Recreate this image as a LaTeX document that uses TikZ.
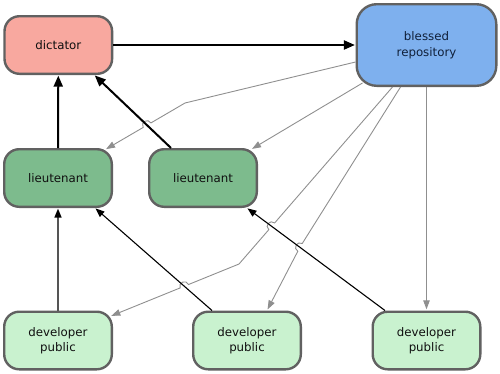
\documentclass[tikz,border=0pt]{standalone}
\usepackage{fontspec}
\setmainfont{DejaVu Sans}
\usetikzlibrary{arrows.meta,calc}
\definecolor{boxline}{HTML}{616161}
\definecolor{dictfill}{HTML}{F8A89F}
\definecolor{blessfill}{HTML}{7EB0EE}
\definecolor{ltfill}{HTML}{7DBB8D}
\definecolor{devfill}{HTML}{C9F2CF}
\definecolor{txt}{HTML}{101010}
\definecolor{blesstxt}{HTML}{10203A}
\definecolor{greyline}{HTML}{8F8F8F}
\definecolor{devline}{HTML}{555555}
\begin{document}
\begin{tikzpicture}[x=1pt,y=-1pt,
  box/.style={draw=boxline, line width=2.4pt, rounded corners=15pt,
    minimum width=107.6pt, minimum height=57.6pt, inner sep=0pt,
    align=center, font=\fontsize{11.8}{15.5}\selectfont, text=txt},
  thickarrow/.style={line width=2pt, black, -{Triangle[length=11pt,width=9pt]}, shorten >=0.6pt},
  thinarrow/.style={line width=1.1pt, black, -{Triangle[length=9pt,width=7pt]}, shorten >=0.6pt},
  devarrow/.style={line width=1.6pt, devline, -{Triangle[length=9pt,width=7pt,fill=black,color=black]}, shorten >=0.6pt},
  greyarrow/.style={line width=0.9pt, greyline, -{Triangle[length=9pt,width=6.5pt]}, shorten >=1.2pt},
  hop/.style={bend right=90, looseness=1.7}]
\useasboundingbox (0,0) rectangle (500,373);

% nodes
\node[box, fill=dictfill] (dict) at (58.3,45) {dictator};
\node[box, fill=blessfill, text=blesstxt, minimum width=139.6pt, minimum height=81.6pt,
      rounded corners=20pt] (bless) at (426.5,45) {blessed\\repository};
\node[box, fill=ltfill] (lt1) at (58,178) {lieutenant};
\node[box, fill=ltfill] (lt2) at (203,178) {lieutenant};
\node[box, fill=devfill] (dev1) at (58,340.5) {developer\\public};
\node[box, fill=devfill] (dev2) at (247,340.5) {developer\\public};
\node[box, fill=devfill] (dev3) at (426.5,340.5) {developer\\public};

% black connector ends
\coordinate (a2s) at ([xshift=-32pt]lt2.north);
\coordinate (a2e) at ([xshift=36pt]dict.south);
\coordinate (a3s) at ([xshift=-35pt]dev2.north);
\coordinate (a3e) at ([xshift=37pt]lt1.south);
\coordinate (a4s) at ([xshift=-41.5pt]dev3.north);
\coordinate (a4e) at ([xshift=44pt]lt2.south);

% grey connector ends and bends
\coordinate (g1s) at ([yshift=-17pt]bless.west);
\coordinate (g1b) at (185,103);
\coordinate (g1e) at ([xshift=-8pt,yshift=-1.7pt]lt1.north east);
\coordinate (g2s) at ([xshift=7pt,yshift=4pt]bless.south west);
\coordinate (g2e) at ([xshift=-7pt,yshift=-1.5pt]lt2.north east);
\coordinate (g3s) at ([xshift=-34pt]bless.south);
\coordinate (g3b) at (239,264);
\coordinate (g3e) at ([xshift=-2.8pt,yshift=-5.8pt]dev1.north east);
\coordinate (g4s) at ([xshift=-26pt]bless.south);
\coordinate (g4m) at (300,247);
\coordinate (g4e) at ([xshift=20pt]dev2.north);

% crossing points
\coordinate (j1) at (intersection cs: first line={(g1b)--(g1e)}, second line={(a2s)--(a2e)});
\coordinate (j2) at (intersection cs: first line={(g3s)--(g3b)}, second line={(a4s)--(a4e)});
\coordinate (j3) at (intersection cs: first line={(g3b)--(g3e)}, second line={(a3s)--(a3e)});
\coordinate (j4) at (intersection cs: first line={(g4s)--(g4m)}, second line={(a4s)--(a4e)});

% grey connectors
\draw[greyarrow] (g1s) -- (g1b) -- ($(j1)!4.5pt!(g1b)$) to[hop] ($(j1)!4.5pt!(g1e)$) -- (g1e);
\draw[greyarrow] (g2s) -- (g2e);
\draw[greyarrow] (g3s) -- ($(j2)!4.5pt!(g3s)$) to[hop] ($(j2)!4.5pt!(g3b)$) -- (g3b)
   -- ($(j3)!4.5pt!(g3b)$) to[hop] ($(j3)!4.5pt!(g3e)$) -- (g3e);
\draw[greyarrow] (g4s) -- ($(j4)!4.5pt!(g4s)$) to[hop] ($(j4)!4.5pt!(g4e)$) -- (g4e);
\draw[greyarrow] (bless.south) -- (dev3.north);

% black connectors
\draw[thickarrow] (dict.east) -- (bless.west);
\draw[thickarrow] (lt1.north) -- (dict.south);
\draw[thickarrow] (a2s) -- (a2e);
\draw[devarrow] (dev1.north) -- (lt1.south);
\draw[thinarrow] (a3s) -- (a3e);
\draw[thinarrow] (a4s) -- (a4e);
\end{tikzpicture}
\end{document}
